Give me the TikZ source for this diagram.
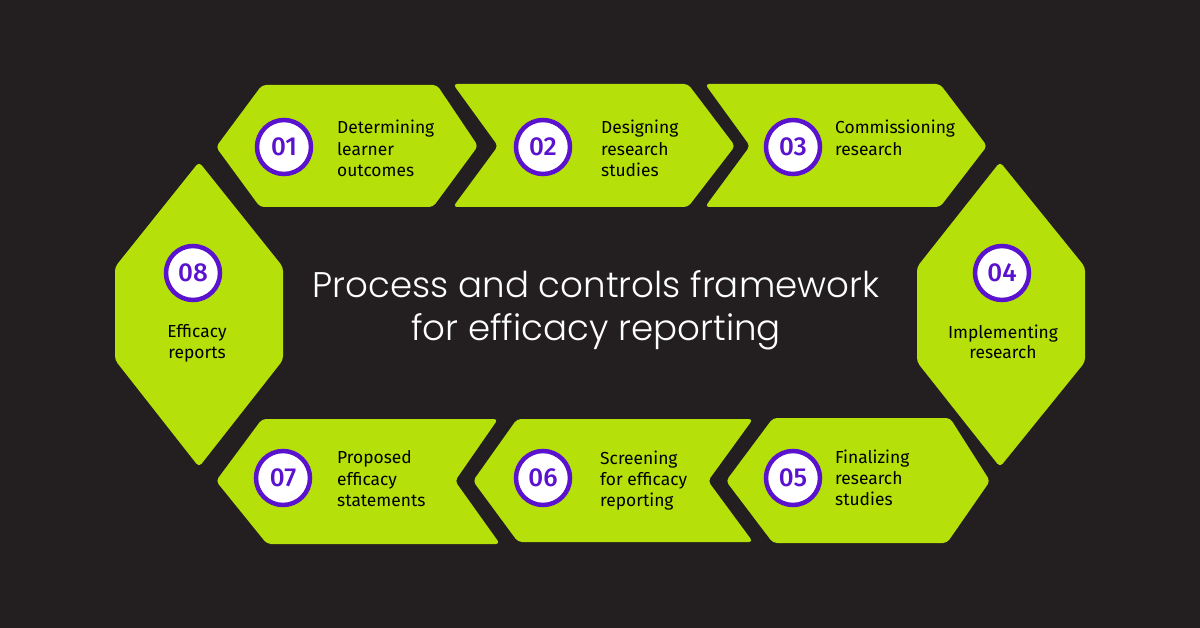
\documentclass[tikz,border=0pt]{standalone}
\usepackage{fontspec}
\setmainfont{Fira Sans}
\newfontfamily\titlefont{Poppins}[UprightFont={* Light}]
\newfontfamily\numfont{Fira Sans}[UprightFont={* Medium}]
\definecolor{bg}{HTML}{231F20}
\definecolor{lime}{HTML}{B6E00A}
\definecolor{purp}{HTML}{5A12CE}
\tikzset{
  panel/.style={fill=lime, rounded corners=4pt},
  badge/.style={circle, draw=purp, line width=4.5pt, fill=white, minimum size=54pt, inner sep=0pt,
    text=purp, font=\numfont\fontsize{26}{26}\selectfont},
  steplabel/.style={anchor=north west, inner sep=0pt, align=left, text=black,
    font=\fontsize{17.4}{21.3}\selectfont},
  sidelabel/.style={anchor=north, inner sep=0pt, align=center, text=black,
    font=\fontsize{17.4}{20.5}\selectfont},
  titletext/.style={anchor=north, inner sep=0pt, align=center, text=white,
    font=\titlefont\fontsize{35.6}{43}\selectfont}
}
\begin{document}
\begin{tikzpicture}[x=1pt,y=-1pt]
\fill[bg] (0,0) rectangle (1200,628);
\useasboundingbox (0,0) rectangle (1200,628);
% panels
\fill[panel] (262,85) -- (437,85) -- (478,146) -- (433,207) -- (260,207) -- (216,147) -- cycle;
\fill[panel] (453,84) -- (688,84) -- (735,146) -- (688,207) -- (453,207) -- (498,146) -- cycle;
\fill[panel] (705,84) -- (940,84) -- (987,146) -- (940,207) -- (705,207) -- (750,146) -- cycle;
\fill[panel] (1000,162) -- (1085,267) -- (1085,362) -- (1000,467) -- (917,362) -- (917,267) -- cycle;
\fill[panel] (773,418) -- (950,418) -- (990,481) -- (947,543) -- (773,543) -- (726,481) -- cycle;
\fill[panel] (517,419) -- (753,419) -- (708,481) -- (753,542) -- (518,542) -- (473,481) -- cycle;
\fill[panel] (262,419) -- (498,419) -- (455,481) -- (500,544) -- (267,544) -- (216,481) -- cycle;
\fill[panel] (199,162) -- (283,267) -- (283,360) -- (199,467) -- (115,360) -- (115,267) -- cycle;
% badges
\node[badge] (b1) at (284,147) {01};
\node[badge] (b2) at (543,147) {02};
\node[badge] (b3) at (793,147) {03};
\node[badge] (b4) at (1002,273) {04};
\node[badge] (b5) at (793,478) {05};
\node[badge] (b6) at (543,478) {06};
\node[badge] (b7) at (283,478) {07};
\node[badge] (b8) at (193,273) {08};
% labels
\node[steplabel] (t1) at (337,120) {Determining\\learner\\outcomes};
\node[steplabel] (t2) at (601,120) {Designing\\research\\studies};
\node[steplabel] (t3) at (835,120) {Commissioning\\research};
\node[sidelabel] (t4) at (1003,324.5) {Implementing\\research};
\node[steplabel] (t5) at (835,449.5) {Finalizing\\research\\studies};
\node[steplabel] (t6) at (600,450.5) {Screening\\for efficacy\\reporting};
\node[steplabel] (t7) at (337,450.5) {Proposed\\efficacy\\statements};
\node[sidelabel] (t8) at (197,324.5) {Efficacy\\reports};
% title
\node[titletext] (title) at (596,270) {Process and controls framework\\for efficacy reporting};
\end{tikzpicture}
\end{document}
